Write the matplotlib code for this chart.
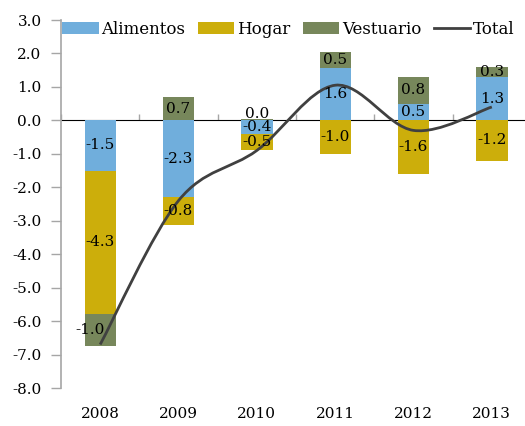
import matplotlib
matplotlib.use("Agg")
import matplotlib.pyplot as plt
import numpy as np
from matplotlib.path import Path
from matplotlib.patches import PathPatch
from matplotlib.lines import Line2D

plt.rcParams['font.family'] = ['DejaVu Serif']
plt.rcParams['font.size'] = 11

years = ['2008', '2009', '2010', '2011', '2012', '2013']
alimentos = [-1.5, -2.3, -0.4, 1.56, 0.5, 1.3]
hogar = [-4.3, -0.84, -0.5, -1.0, -1.6, -1.2]
vestuario = [-0.95, 0.7, 0.04, 0.48, 0.8, 0.3]
total = [-6.7, -2.4, -0.9, 1.05, -0.3, 0.4]

c_ali = '#70AEDC'
c_hog = '#CCAE0B'
c_ves = '#77875B'
c_tot = '#404040'
c_axis = '#A6A6A6'

fig = plt.figure(figsize=(5.25, 4.26), dpi=100)
ax = fig.add_axes([61/525, 1-388/426, (531-61)/525, (388-20)/426])

x = np.arange(len(years))
ali = np.array(alimentos); hog = np.array(hogar); ves = np.array(vestuario)

# stacking: positives stack up from 0, negatives stack down from 0
pos_base = np.zeros(len(x)); neg_base = np.zeros(len(x))
bars = []
for vals, col, name in [(ali, c_ali, 'Alimentos'), (hog, c_hog, 'Hogar'), (ves, c_ves, 'Vestuario')]:
    bottom = np.where(vals >= 0, pos_base, neg_base)
    b = ax.bar(x, vals, 0.4, bottom=bottom, color=col, label=name, zorder=2)
    bars.append(b)
    pos_base = pos_base + np.where(vals >= 0, vals, 0)
    neg_base = neg_base + np.where(vals < 0, vals, 0)

for b in bars:
    anns = ax.bar_label(b, labels=[f'{v.get_height():.1f}' for v in b], label_type='center',
                        fontsize=11, color='black', zorder=4)
    if b is bars[2]:
        anns[0].xyann = (-7, 0)
        anns[2].xyann = (0, 4)

# smooth total line (Excel-like Bezier smoothing)
tx = x.astype(float); ty = np.array(total, dtype=float)
pts = np.column_stack([tx, ty])
verts = [pts[0]]
codes = [Path.MOVETO]
n = len(pts)
for i in range(n - 1):
    p0 = pts[i - 1] if i > 0 else pts[i]
    p1 = pts[i]; p2 = pts[i + 1]
    p3 = pts[i + 2] if i + 2 < n else pts[i + 1]
    c1 = p1 + (p2 - p0) / 6.0
    c2 = p2 - (p3 - p1) / 6.0
    verts += [c1, c2, p2]
    codes += [Path.CURVE4] * 3
ax.add_patch(PathPatch(Path(verts, codes), facecolor='none', edgecolor=c_tot, lw=2.0,
                       zorder=3, capstyle='butt'))

ymin, ymax = -8.0, 3.0
ax.set_ylim(ymin, ymax)
ax.set_xlim(-0.5, len(x) - 0.5)
ax.set_yticks(np.arange(-8, 4, 1.0))
ax.set_yticklabels([f'{v:.1f}' for v in np.arange(-8, 4, 1.0)])
ax.tick_params(axis='y', direction='out', length=7, width=1, color=c_axis, pad=7)

# category labels at the bottom
ax.set_xticks(x)
ax.set_xticklabels(years)
ax.tick_params(axis='x', length=0, pad=14)

for s in ['top', 'right', 'bottom']:
    ax.spines[s].set_visible(False)
ax.spines['left'].set_color(c_axis)
ax.spines['left'].set_linewidth(1.2)

# horizontal category axis at zero
sec = ax.secondary_xaxis((0 - ymin) / (ymax - ymin))
sec.set_xticks(np.arange(-0.5, len(x), 1.0))
sec.set_xticklabels([])
sec.tick_params(axis='x', direction='out', length=4, color=c_axis, width=1)
sec.spines['bottom'].set_color(c_axis)
sec.spines['bottom'].set_linewidth(1.2)

handles = [bars[0], bars[1], bars[2], Line2D([], [], color=c_tot, lw=2)]
labels = ['Alimentos', 'Hogar', 'Vestuario', 'Total']
fig.legend(handles, labels, loc='center left', bbox_to_anchor=(62/525, 1-29/426), ncol=4,
           frameon=False, borderpad=0, borderaxespad=0, handlelength=2.2, handleheight=0.7,
           handletextpad=0.15, columnspacing=0.75, fontsize=12)

fig.savefig('out.png', dpi=100)
